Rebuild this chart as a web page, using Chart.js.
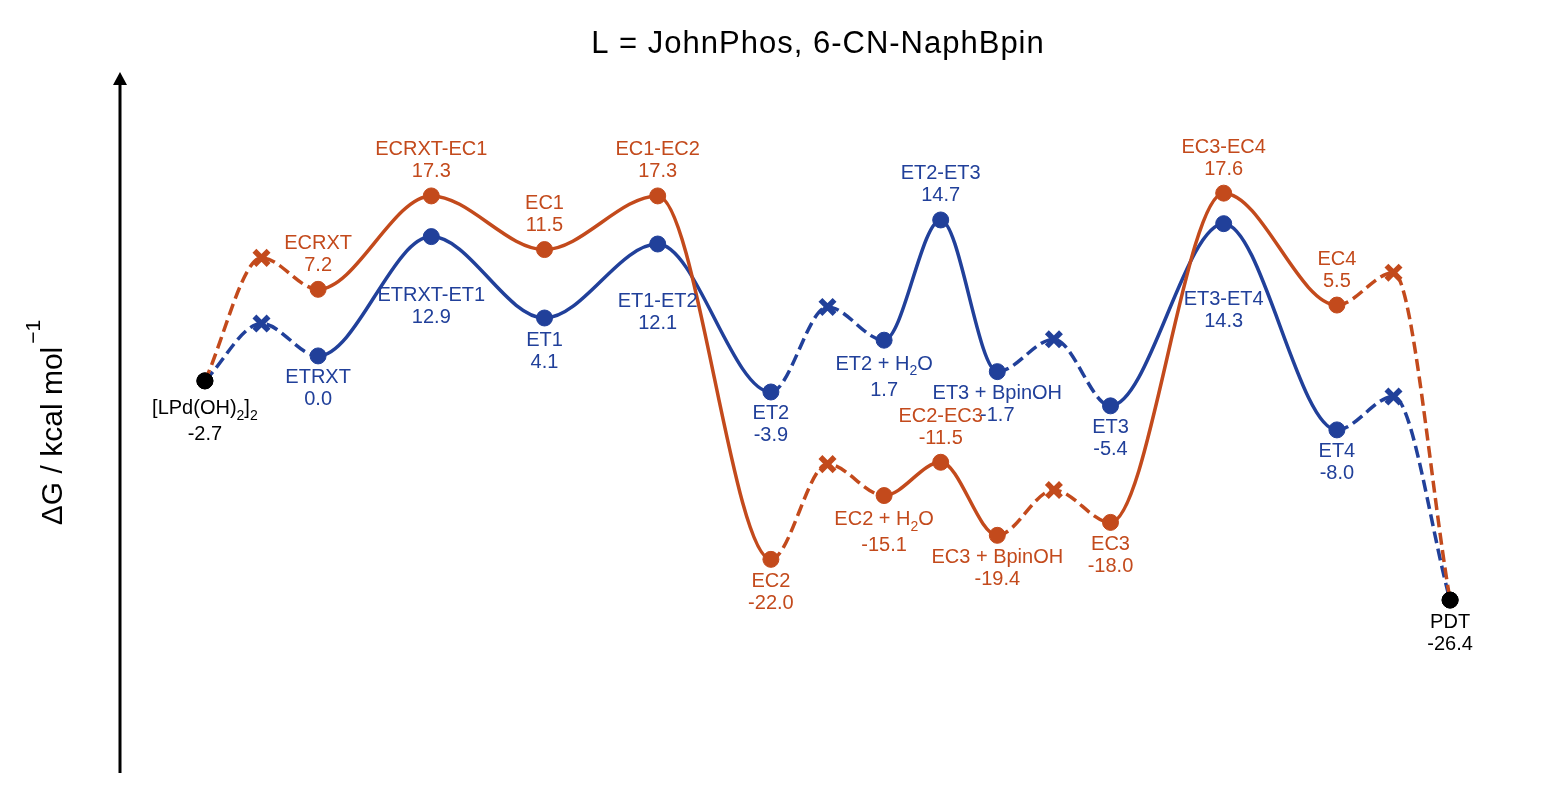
<!DOCTYPE html>
<html>
<head>
<meta charset="utf-8">
<script src="https://cdn.jsdelivr.net/npm/chart.js@4.4.0/dist/chart.umd.min.js"></script>
<style>
  body { margin: 0; background: #fff; }
  #wrap { width: 1544px; height: 802px; }
</style>
</head>
<body>
<div id="wrap"><canvas id="profile"></canvas></div>
<script>
const title = "L = JohnPhos, 6-CN-NaphBpin";
const yTitle = "ΔG / kcal mol";
const yTitleSup = "−1";

// reaction coordinate of every state (null name = unlabelled connector point)
const positions = [0, 1, 2, 4, 6, 8, 10, 11, 12, 13, 14, 15, 16, 18, 20, 21, 22];

const ecNames = ["[LPd(OH)_2]_2", null, "ECRXT", "ECRXT-EC1", "EC1", "EC1-EC2", "EC2", null,
  "EC2 + H_2O", "EC2-EC3", "EC3 + BpinOH", null, "EC3", "EC3-EC4", "EC4", null, "PDT"];
const ecEnergies = [-2.7, 10.6, 7.2, 17.3, 11.5, 17.3, -22.0, -11.7,
  -15.1, -11.5, -19.4, -14.5, -18.0, 17.6, 5.5, 9.0, -26.4];

const etNames = ["[LPd(OH)_2]_2", null, "ETRXT", "ETRXT-ET1", "ET1", "ET1-ET2", "ET2", null,
  "ET2 + H_2O", "ET2-ET3", "ET3 + BpinOH", null, "ET3", "ET3-ET4", "ET4", null, "PDT"];
const etEnergies = [-2.7, 3.5, 0.0, 12.9, 4.1, 12.1, -3.9, 5.3,
  1.7, 14.7, -1.7, 1.8, -5.4, 14.3, -8.0, -4.4, -26.4];

// label placement (px from the point to the name line; negative = above)
const ecLabelDy = [28, null, -46, -46, -46, -46, 22, null, 24, -46, 22, null, 22, -46, -46, null, 22];
const etLabelDy = [28, null, 22, 59, 22, 57, 22, null, 24, -46, 22, null, 22, 76, 22, null, 22];

const ORANGE = "#c34a1c";
const BLUE = "#21409a";
const FONT = "'Liberation Sans', Arial, sans-serif";

function buildDataset(names, energies, color, labelDy) {
  const isEnd = (i) => i === 0 || i === names.length - 1;
  const isMarker = names.map((n) => n === null);
  return {
    data: positions.map((x, i) => ({ x: x, y: energies[i] })),
    names: names,
    labelDy: labelDy,
    color: color,
    borderColor: color,
    borderWidth: 3.5,
    borderJoinStyle: "round",
    cubicInterpolationMode: "monotone",
    tension: 0.4,
    fill: false,
    pointStyle: names.map((n) => (n === null ? "crossRot" : "circle")),
    pointRadius: names.map((n) => (n === null ? 10 : 8)),
    pointBorderWidth: names.map((n) => (n === null ? 5.5 : 1)),
    pointBackgroundColor: names.map((n, i) => (isEnd(i) ? "#000" : color)),
    pointBorderColor: names.map((n, i) => (isEnd(i) ? "#000" : color)),
    segment: {
      borderDash: (ctx) =>
        isMarker[ctx.p0DataIndex] || isMarker[ctx.p1DataIndex] ? [12, 5.5] : undefined,
    },
  };
}

// text with "_2" style subscripts, centred on (cx, cy)
function drawRich(ctx, text, cx, cy, size) {
  const parts = text.split(/_(\d)/);
  const sub = size * 0.7;
  let total = 0;
  const widths = parts.map((p, i) => {
    ctx.font = (i % 2 ? sub : size) + "px " + FONT;
    const w = ctx.measureText(p).width;
    total += w;
    return w;
  });
  let x = cx - total / 2;
  ctx.textAlign = "left";
  ctx.textBaseline = "middle";
  parts.forEach((p, i) => {
    ctx.font = (i % 2 ? sub : size) + "px " + FONT;
    ctx.fillText(p, x, i % 2 ? cy + size * 0.37 : cy);
    x += widths[i];
  });
}

const labelsPlugin = {
  id: "stateLabels",
  afterDatasetsDraw(chart) {
    const ctx = chart.ctx;
    ctx.save();
    const drawn = {};
    chart.data.datasets.forEach((ds, d) => {
      const meta = chart.getDatasetMeta(d);
      ds.names.forEach((name, i) => {
        if (name === null) return;
        const end = i === 0 || i === ds.names.length - 1;
        if (end && drawn[name]) return;
        drawn[name] = true;
        const pt = meta.data[i];
        const y0 = pt.y + ds.labelDy[i];
        const gap = name.includes("_") ? 26 : 22;
        ctx.fillStyle = end ? "#000" : ds.color;
        drawRich(ctx, name, pt.x, y0, 20);
        drawRich(ctx, ds.data[i].y.toFixed(1), pt.x, y0 + gap, 20);
      });
    });
    ctx.restore();
  },
  afterDraw(chart) {
    const ctx = chart.ctx;
    const a = chart.chartArea;
    ctx.save();
    // y axis arrow
    ctx.strokeStyle = "#000";
    ctx.fillStyle = "#000";
    ctx.lineWidth = 3;
    ctx.beginPath();
    ctx.moveTo(a.left, a.bottom);
    ctx.lineTo(a.left, a.top + 10);
    ctx.stroke();
    ctx.beginPath();
    ctx.moveTo(a.left, a.top);
    ctx.lineTo(a.left - 7, a.top + 13);
    ctx.lineTo(a.left + 7, a.top + 13);
    ctx.closePath();
    ctx.fill();

    // y title, rotated
    ctx.font = "30px " + FONT;
    const wMain = ctx.measureText(yTitle).width;
    ctx.font = "21px " + FONT;
    const wSup = ctx.measureText(yTitleSup).width;
    const total = wMain + 3 + wSup;
    ctx.translate(62, (a.top + a.bottom) / 2);
    ctx.rotate(-Math.PI / 2);
    ctx.textAlign = "left";
    ctx.textBaseline = "alphabetic";
    ctx.font = "30px " + FONT;
    ctx.fillText(yTitle, -total / 2, 0);
    ctx.font = "21px " + FONT;
    ctx.fillText(yTitleSup, -total / 2 + wMain + 3, -22);
    ctx.setTransform(1, 0, 0, 1, 0, 0);
    ctx.restore();

    // title
    ctx.save();
    ctx.font = "31px " + FONT;
    ctx.letterSpacing = "1px";
    ctx.fillStyle = "#000";
    ctx.textAlign = "center";
    ctx.textBaseline = "middle";
    ctx.fillText(title, 818, 44);
    ctx.restore();
  },
};

const profile = new Chart(document.getElementById("profile"), {
  type: "line",
  data: {
    datasets: [
      buildDataset(ecNames, ecEnergies, ORANGE, ecLabelDy),
      buildDataset(etNames, etEnergies, BLUE, etLabelDy),
    ],
  },
  options: {
    responsive: true,
    maintainAspectRatio: false,
    animation: false,
    layout: { padding: { left: 120, right: 6.5, top: 72, bottom: 29 } },
    scales: {
      x: { type: "linear", min: -1.5, max: 23.5, display: false },
      y: { type: "linear", min: -45.1, max: 30.7, display: false },
    },
    plugins: {
      legend: { display: false },
      tooltip: { enabled: false },
    },
  },
  plugins: [labelsPlugin],
});
</script>
</body>
</html>
